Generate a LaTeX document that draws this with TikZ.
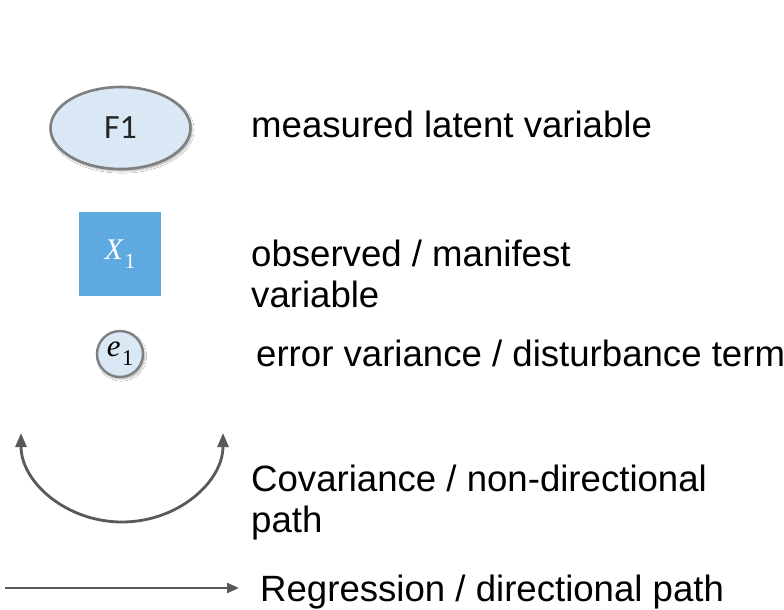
\documentclass[tikz,border=0pt]{standalone}
\usepackage{fontspec}
\setmainfont{Liberation Sans}
\newfontfamily\calib{Carlito}
\newfontfamily\symserif{Liberation Serif}
\usetikzlibrary{arrows.meta,shadows.blur,shapes.geometric}
\definecolor{latentfill}{HTML}{DAE8F6}
\definecolor{rimgray}{HTML}{7F7F7F}
\definecolor{manifestblue}{HTML}{5DA9E0}
\definecolor{pathgray}{HTML}{595959}
% italic letter with an upright, lowered index
\newcommand{\idxvar}[3]{{\symserif\fontsize{#3}{#3}\selectfont\itshape #1\kern0.05em\raisebox{-0.3em}{\upshape\fontsize{0.72\dimexpr #3pt\relax}{1pt}\selectfont #2}}}
\tikzset{
  legendtext/.style={anchor=base west, inner sep=0pt, text=black,
    font=\fontsize{36.6}{42}\selectfont},
  latent/.style={ellipse, draw=rimgray, line width=2.6pt, fill=latentfill,
    minimum width=140pt, minimum height=82pt, inner sep=0pt,
    blur shadow={shadow xshift=1.5pt, shadow yshift=-2pt, shadow blur steps=6, shadow opacity=35}},
  manifest/.style={rectangle, fill=manifestblue, minimum width=82pt,
    minimum height=84pt, inner sep=0pt, text=white},
  errterm/.style={circle, draw=rimgray, line width=2.4pt, fill=latentfill,
    minimum size=46pt, inner sep=0pt,
    blur shadow={shadow xshift=1.5pt, shadow yshift=-2pt, shadow blur steps=6, shadow opacity=35}},
  pathline/.style={draw=pathgray, line width=2.8pt},
}
\begin{document}
\begin{tikzpicture}[x=1pt,y=-1pt]
  \fill[white] (0,0) rectangle (784,610);
  \useasboundingbox (0,0) rectangle (784,610);

  % symbols
  \node[latent] (lat) at (120.5,128) {\calib\fontsize{34}{38}\selectfont\color[HTML]{262626}F1};
  \node[manifest] (man) at (120,254) {\idxvar{X}{1}{30}};
  \node[errterm] (err) at (120,354) {\idxvar{e}{1}{31}};

  % covariance (two-headed curved path)
  \coordinate (covL) at (21,433);
  \draw[pathline, {Triangle[length=14pt,width=11pt]}-{Triangle[length=14pt,width=11pt]}]
    (covL) arc[start angle=180, end angle=0, x radius=101, y radius=89];

  % regression (directional path)
  \coordinate (regA) at (5,588);
  \coordinate (regB) at (239,588);
  \draw[pathline, line width=2.4pt, -{Triangle[length=12pt,width=10pt]}] (regA) -- (regB);

  % legend texts
  \node[legendtext] (t1) at (251,137) {measured latent variable};
  \node[legendtext] (t2) at (251,266) {observed / manifest};
  \node[legendtext] (t3) at (251,307) {variable};
  \node[legendtext] (t4) at (256,366) {error variance / disturbance term};
  \node[legendtext] (t5) at (251,491) {Covariance / non-directional};
  \node[legendtext] (t6) at (251,532) {path};
  \node[legendtext] (t7) at (260,601) {Regression / directional path};
\end{tikzpicture}
\end{document}
